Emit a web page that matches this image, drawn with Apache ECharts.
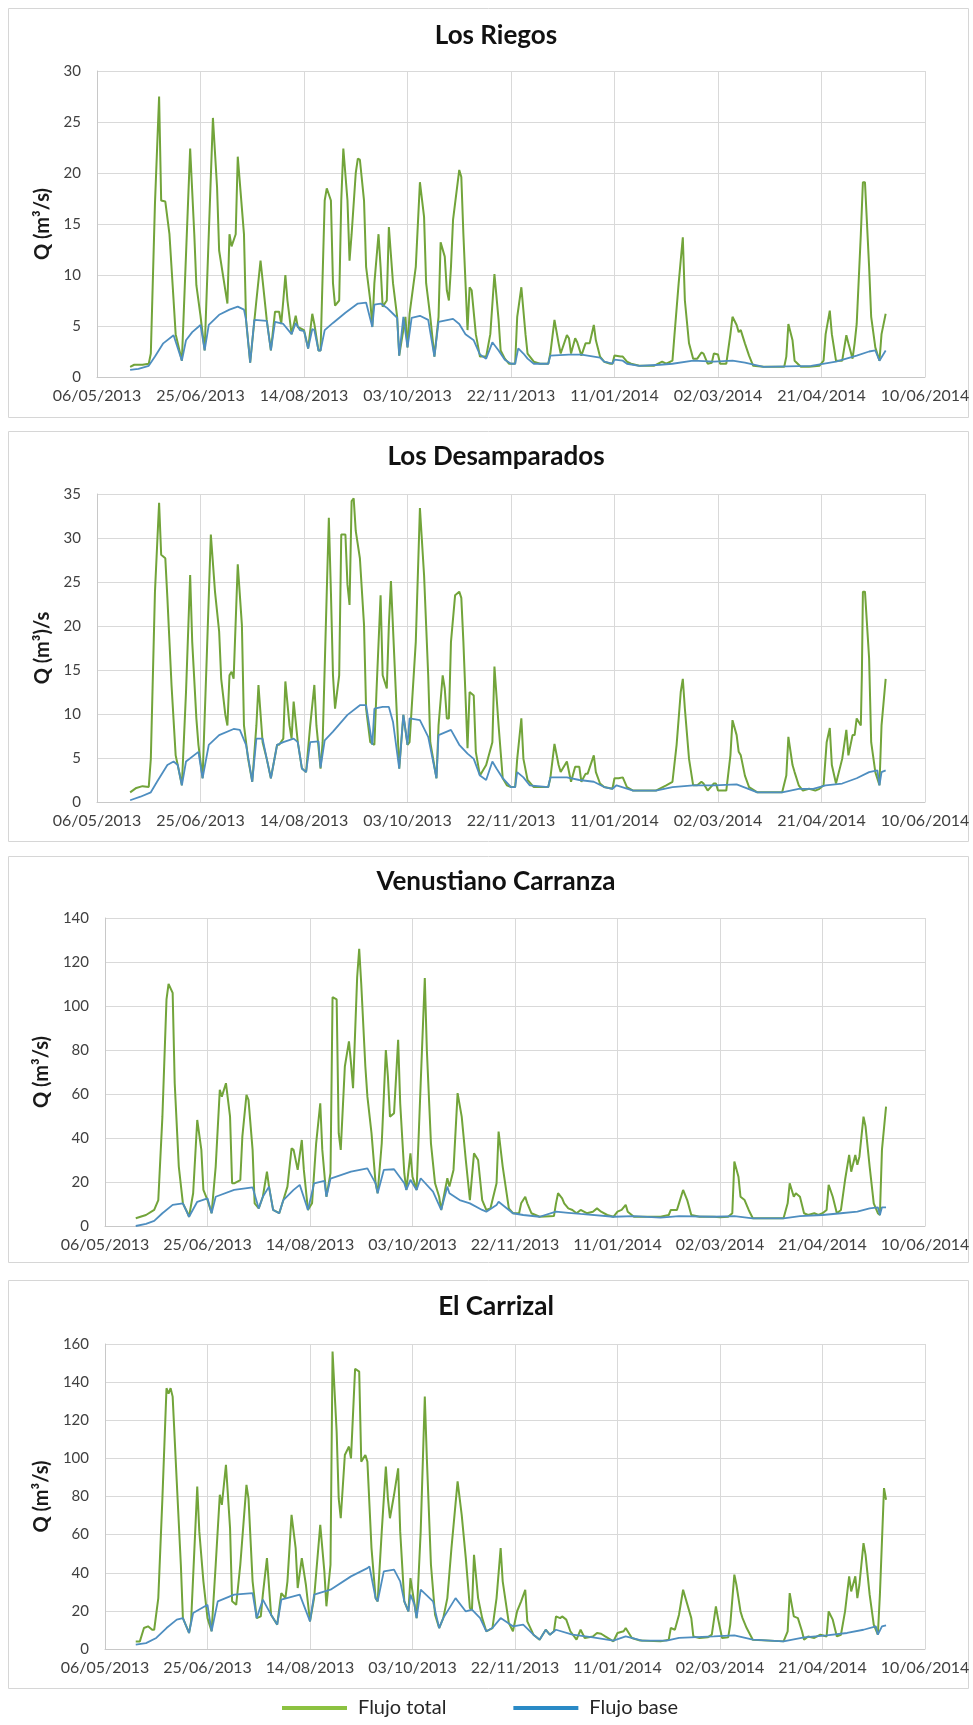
<!DOCTYPE html>
<html>
<head>
<meta charset="utf-8">
<title>Flujo total y flujo base</title>
<script src="https://cdn.jsdelivr.net/npm/echarts@6/dist/echarts.min.js"></script>
<style>
  html, body { margin: 0; padding: 0; background: #ffffff; }
  #chart { width: 973px; height: 1725px; }
</style>
</head>
<body>
<div id="chart"></div>
<script>
// x values are days counted from 06/05/2013; y values are discharge in m3/s
const xTickLabels = ['06/05/2013', '25/06/2013', '14/08/2013', '03/10/2013', '22/11/2013',
                     '11/01/2014', '02/03/2014', '21/04/2014', '10/06/2014'];
const xTickStep = 50;

const stations = ['Los Riegos', 'Los Desamparados', 'Venustiano Carranza', 'El Carrizal'];
const yAxisNames = ['Q (m³/s)', 'Q (m³)/s', 'Q (m³/s)', 'Q (m³/s)'];
const yMax = [30, 35, 140, 160];
const yStep = [5, 5, 20, 20];

const riegosTotal = [[16,1.0],[18,1.2],[22,1.2],[25,1.3],[26,2.3],[28,17.0],[30,27.5],[31,17.3],[33,17.2],[35,14.0],[37,7.5],[38,4.2],[41,1.6],[45,22.4],[47,14.0],[48,9.0],[50,6.0],[52,2.6],[54,14.0],[56,25.4],[58,18.6],[59,12.4],[61,9.8],[63,7.2],[64,14.0],[65,12.8],[67,14.0],[68,21.6],[71,14.0],[72,5.6],[74,1.4],[77,7.5],[79,11.4],[80,9.5],[82,5.6],[84,2.6],[86,6.4],[88,6.4],[89,5.2],[90,7.5],[91,10.0],[92,7.5],[94,4.2],[96,6.0],[97,4.9],[100,4.6],[102,2.8],[104,6.2],[105,5.2],[107,2.6],[108,2.6],[110,17.3],[111,18.5],[113,17.3],[114,9.2],[115,7.0],[117,7.5],[118,17.3],[119,22.4],[121,17.3],[122,11.4],[123,14.0],[125,20.0],[126,21.4],[127,21.3],[129,17.3],[130,10.8],[132,7.5],[133,4.9],[134,9.2],[136,14.0],[137,10.8],[138,6.9],[140,7.5],[141,14.7],[143,9.2],[145,5.9],[146,2.1],[149,5.9],[150,2.9],[151,6.2],[154,10.8],[156,19.1],[158,15.7],[159,9.2],[161,5.9],[163,2.0],[165,5.9],[166,13.2],[168,11.8],[169,8.5],[170,7.5],[171,10.8],[172,15.4],[175,20.3],[176,19.6],[177,14.0],[179,4.6],[180,8.8],[181,8.5],[183,4.2],[185,2.0],[188,2.0],[190,4.2],[192,10.1],[194,5.6],[195,2.6],[197,1.8],[199,1.3],[202,1.3],[203,5.9],[205,8.8],[207,4.2],[208,2.3],[211,1.5],[214,1.3],[218,1.3],[219,2.3],[221,5.6],[223,3.3],[224,2.3],[227,4.1],[228,3.8],[229,2.3],[231,3.8],[232,3.4],[234,2.1],[236,3.3],[238,3.3],[240,5.1],[241,3.6],[243,2.0],[245,1.5],[248,1.3],[249,1.3],[250,2.1],[253,2.0],[254,2.0],[256,1.5],[258,1.3],[262,1.1],[269,1.1],[273,1.5],[275,1.3],[278,1.6],[279,4.2],[281,9.2],[283,13.7],[284,7.5],[286,3.3],[288,1.8],[290,1.8],[292,2.4],[293,2.3],[295,1.3],[297,1.4],[298,2.3],[300,2.2],[301,1.3],[304,1.3],[306,4.2],[307,5.9],[309,5.1],[310,4.4],[311,4.6],[313,3.3],[315,2.1],[317,1.1],[322,1.0],[332,1.0],[333,2.0],[334,5.2],[336,3.6],[337,1.6],[340,1.0],[344,1.0],[349,1.1],[351,1.6],[352,4.2],[354,6.5],[355,4.2],[357,1.6],[360,1.6],[362,4.1],[363,3.3],[365,1.8],[366,3.3],[367,5.2],[369,14.0],[370,19.1],[371,19.1],[373,10.8],[374,5.9],[376,2.9],[378,1.6],[379,4.2],[381,6.2]];
const riegosBase = [[16,0.7],[20,0.8],[25,1.1],[28,2.0],[32,3.3],[37,4.1],[41,1.6],[43,3.6],[46,4.4],[50,5.1],[52,2.6],[54,5.1],[59,6.1],[64,6.6],[68,6.9],[71,6.6],[72,5.6],[74,1.4],[76,5.6],[82,5.5],[84,2.6],[86,5.4],[90,5.2],[94,4.2],[96,5.3],[98,4.6],[100,4.5],[102,2.8],[104,4.7],[105,4.6],[107,2.6],[108,2.6],[110,4.6],[114,5.3],[120,6.3],[126,7.2],[130,7.3],[133,4.9],[134,7.1],[137,7.2],[140,6.8],[143,6.2],[145,5.8],[146,2.1],[148,5.9],[150,2.9],[152,5.8],[156,6.0],[160,5.6],[163,2.0],[165,5.4],[172,5.7],[175,5.2],[178,4.2],[182,3.6],[185,2.2],[188,1.8],[191,3.4],[194,2.6],[197,1.7],[200,1.3],[202,1.3],[203.5,2.8],[206,2.3],[208,1.8],[211,1.3],[218,1.3],[219,2.1],[228,2.2],[234,2.2],[240,2.0],[243,1.9],[245,1.5],[249,1.3],[250,1.7],[254,1.6],[256,1.3],[262,1.1],[272,1.2],[278,1.3],[288,1.6],[298,1.5],[307,1.6],[313,1.4],[322,1.0],[345,1.1],[357,1.5],[367,2.1],[373,2.5],[376,2.6],[378,1.6],[381,2.6]];

const desampTotal = [[16,1.1],[19,1.6],[22,1.8],[25,1.7],[26,4.9],[28,23.9],[30,34.0],[31,28.1],[33,27.7],[34,23.2],[36,13.3],[38,5.3],[39,4.2],[41,1.9],[43,12.5],[45,25.8],[46,18.2],[48,9.5],[49,6.5],[51,2.7],[53,16.3],[55,30.4],[57,23.9],[59,19.4],[60,14.0],[62,9.9],[63,8.7],[64,14.4],[65,14.8],[66,14.0],[68,27.0],[70,20.1],[71,8.7],[73,4.9],[75,2.3],[77,8.7],[78,13.3],[80,6.8],[82,4.9],[84,2.7],[87,6.5],[88,6.5],[90,7.2],[91,13.7],[93,8.7],[94,7.2],[95,11.4],[97,6.8],[99,3.8],[101,3.4],[103,8.7],[105,13.3],[106,8.7],[108,3.8],[109,6.8],[111,23.9],[112,32.3],[113,23.9],[114,14.4],[115,10.6],[117,14.4],[118,30.4],[120,30.4],[121,24.7],[122,22.4],[123,34.2],[124,34.5],[125,30.8],[127,27.7],[129,20.1],[130,10.6],[132,6.8],[134,6.5],[135,12.5],[137,23.5],[138,14.4],[140,12.9],[141,20.1],[142,25.1],[144,14.4],[146,3.8],[148,9.9],[150,6.5],[151,6.8],[154,18.2],[156,33.4],[158,25.8],[160,14.4],[161,6.8],[164,2.7],[165,8.7],[167,14.4],[168,12.9],[169,9.5],[170,9.5],[171,18.2],[173,23.5],[175,23.9],[176,23.2],[177,18.2],[179,6.1],[180,12.5],[182,12.1],[183,5.7],[185,3.0],[188,4.2],[191,6.8],[192,15.4],[194,8.7],[196,2.7],[198,1.9],[200,1.7],[202,1.7],[203,4.9],[205,9.5],[206,4.9],[208,2.5],[211,1.7],[218,1.7],[219,2.7],[221,6.6],[223,4.2],[224,3.4],[227,4.6],[229,2.3],[231,4.0],[233,4.0],[234,2.3],[236,3.2],[237,3.2],[240,5.3],[241,3.4],[243,2.1],[245,1.7],[249,1.5],[250,2.7],[252,2.7],[254,2.8],[256,1.7],[259,1.3],[270,1.3],[275,1.9],[278,2.3],[280,6.5],[282,12.5],[283,14.0],[284,10.6],[286,4.9],[288,1.9],[290,1.9],[292,2.3],[293,2.1],[295,1.3],[298,2.1],[299,2.1],[300,1.3],[304,1.3],[306,5.3],[307,9.3],[309,7.6],[310,5.7],[311,5.3],[313,3.0],[315,1.7],[319,1.1],[331,1.1],[333,3.0],[334,7.4],[336,4.2],[337,3.4],[339,1.9],[341,1.3],[344,1.5],[347,1.3],[349,1.5],[351,1.9],[352.5,6.8],[354,8.4],[355,4.2],[357,2.1],[360,4.9],[362,8.2],[363,5.3],[365,7.6],[366,7.6],[367,9.5],[369,8.7],[369.5,14.4],[370,23.9],[371,23.9],[373,16.3],[374,6.8],[376,3.4],[378,1.9],[379,8.7],[381,14.0]];
const desampBase = [[16,0.2],[21,0.6],[26,1.1],[29,2.3],[34,4.2],[37,4.6],[39,4.2],[41,1.9],[43,4.6],[49,5.7],[51,2.7],[54,6.5],[59,7.6],[66,8.3],[69,8.2],[72,6.5],[75,2.3],[77,7.2],[80,7.2],[82,4.9],[84,2.7],[87,6.5],[90,6.8],[95,7.2],[97,6.8],[99,3.8],[101,3.4],[103,6.8],[107,6.9],[108,3.9],[110,7.0],[114,8.0],[121,9.9],[127,11.0],[130,11.0],[133,6.5],[134,10.6],[138,10.8],[141,10.8],[143,9.1],[146,3.8],[148,9.9],[150,6.5],[151,9.5],[156,9.3],[160,7.4],[164,2.7],[165,7.6],[171,8.2],[175,6.5],[179,5.5],[182,4.9],[185,3.0],[188,2.5],[191,4.6],[193,3.8],[196,2.7],[200,1.7],[202,1.7],[203,3.4],[206,2.8],[209,1.9],[218,1.7],[219,2.8],[227,2.8],[233,2.5],[240,2.3],[245,1.7],[249,1.5],[251,1.9],[259,1.3],[270,1.3],[278,1.7],[288,1.9],[298,1.9],[309,2.0],[319,1.1],[331,1.1],[339,1.5],[346,1.5],[352,1.9],[360,2.1],[367,2.7],[373,3.4],[377,3.6],[378,1.9],[379,3.4],[381,3.6]];

const carranzaTotal = [[15,3.5],[20,5.0],[24,7.3],[26,11.8],[28,49.7],[30,103],[31,110],[33,106],[34,65],[36,27],[38,10.3],[40,6.5],[41,4.2],[43,14.9],[45,48.2],[47,34.6],[48,16.4],[50,11.8],[52,5.8],[54,27],[56,61.9],[57,58.8],[59,64.9],[61,49.7],[62,19.4],[63,19.4],[66,20.9],[67,40.6],[69,59.6],[70,57.3],[72,34.6],[73,10.3],[75,8.0],[77,13.3],[79,24.7],[80,17.9],[82,7.3],[85,5.8],[87,11.8],[89,17.9],[91,35.3],[92,34.6],[94,25.5],[96,39.1],[97,25.5],[99,7.3],[101,10.3],[103,37.6],[105,55.8],[106,34.6],[108,13.3],[110,24],[111,104],[113,103],[114,42.2],[115,34.6],[117,72.5],[119,83.9],[120,74],[121,62.6],[123,113],[124,126],[125,110],[127,72.5],[128,58.8],[130,42.2],[132,19.4],[133,14.9],[135,37.6],[137,80],[138,68],[139,49.7],[141,51.3],[143,84.6],[144,55.8],[146,24],[147,16.4],[149,33],[150,22.4],[152,16.4],[154,65],[156,112.7],[157,80],[159,37.6],[161,19.4],[163,13.3],[164,7.3],[167,21.7],[168,17.9],[170,25.5],[172,60.4],[174,49.7],[176,30],[178,11.8],[180,33],[182,30],[184,11.8],[186,7.3],[188,8],[191,19.4],[192,42.9],[194,27],[197,8],[199,5.8],[202,5.8],[203,10.3],[205,13.3],[206,10.3],[208,5.8],[212,4.2],[219,4.5],[220,10.3],[221,14.9],[223,12.6],[224,10.3],[226,8],[228,7.3],[230,5.8],[232,7.3],[235,5.8],[238,6.5],[240,8],[242,6.5],[245,5],[248,4.2],[250,6.5],[252,7.3],[254,9.6],[255,6.5],[258,4.2],[271,4.2],[275,5],[276,7.3],[279,7.3],[280,10.3],[282,16.4],[284,11.8],[286,5],[290,4.2],[297,4.2],[300,4],[304,4.2],[306,5.8],[307,29.3],[309,22.4],[310,13.3],[312,11.8],[314,7.3],[316,3.5],[331,3.5],[333,10.3],[334,19.4],[336,13.3],[337,14.9],[339,13.3],[341,5.8],[343,5],[346,5.8],[348,5],[350,5.8],[352,7.3],[353,18.7],[355,13.3],[357,5.8],[359,7.3],[361,20.9],[363,32.3],[364,24.7],[366,32.3],[367,27.8],[368,31.5],[370,49.7],[371,45.2],[373,27],[375,10.3],[377,5.8],[378,5],[379,34.6],[381,54.3]];
const carranzaBase = [[15,0],[20,1],[24,2.3],[28,5.8],[33,9.6],[38,10.3],[41,4.2],[45,11],[50,12.6],[52,5.8],[54,13.3],[63,16.4],[72,17.6],[75,8],[77,13.3],[80,17.9],[82,7.3],[85,5.8],[87,11.8],[92,16.4],[95,18.7],[99,7.3],[102,19.4],[107,20.5],[108,13.3],[110,21.5],[120,24.7],[128,26.2],[132,19.4],[133,14.9],[136,25.5],[141,25.8],[146,19.4],[147,16.4],[149,21],[150,19.4],[152,16.4],[154,21.7],[160,15.6],[164,7.3],[167,17.9],[168,14.9],[173,11.8],[178,10.3],[184,7.3],[186,6.5],[191,9.6],[192,11],[197,7.3],[199,5.8],[204,5],[212,4.2],[220,6.5],[226,6],[232,5.5],[248,4.2],[258,4.5],[271,3.8],[280,4.5],[297,4.2],[307,4.5],[316,3.5],[331,3.5],[339,4.5],[350,5],[359,5.8],[367,6.5],[373,8],[377,8.5],[378,5],[379,8.5],[381,8.5]];

const carrizalTotal = [[15,4],[17,4],[19,11],[21,11.9],[23,10.1],[24,10.1],[26,26.7],[28,79],[30,136.8],[31,134],[32,136.8],[33,132.4],[35,87.9],[37,44.2],[38,16.2],[41,8.4],[42,14.5],[45,85.2],[46,61.7],[48,35.5],[50,16.2],[52,9.3],[54,44.2],[56,80.9],[57,75.6],[59,96.6],[61,63.4],[62,25],[64,23.2],[66,44.2],[69,86.1],[70,79],[72,35.5],[74,16.2],[76,17.1],[77,28.5],[79,47.7],[81,18],[84,12.8],[86,29.3],[88,26.7],[89,35.5],[91,70.4],[93,52.9],[94,32],[96,47.7],[98,33.7],[100,14.5],[102,26.7],[105,65.2],[107,40.7],[108,22.4],[110,44.2],[111,156],[113,114],[114,79],[115,68.6],[117,101.8],[119,106.2],[120,100],[122,147],[124,145.5],[125,98.3],[127,101.8],[128,98.3],[130,52.9],[132,26.7],[133,25],[135,61.7],[137,95.7],[138,79],[139,68.6],[141,80.9],[143,94.8],[144,61.7],[146,25],[148,19.7],[149,37.2],[151,23.2],[152,16.2],[154,61.7],[156,132.4],[157,100],[159,44.2],[161,18],[163,11],[165,16.2],[167,26.7],[169,52.9],[172,87.9],[174,70.4],[176,47.7],[178,21.5],[179,20.6],[180,49.4],[182,26.7],[184,16.2],[186,9.3],[189,11],[191,26.7],[193,52.9],[194,35.5],[197,13.6],[199,9.3],[201,19.7],[203,25],[205,31.1],[206,14.5],[209,7.5],[212,4.9],[215,10.1],[217,7.5],[219,9.3],[220,17.1],[222,16.2],[223,17.1],[225,15.4],[227,9.3],[230,4.9],[232,10.1],[234,5.8],[238,6.6],[240,8.4],[242,8],[244,6.6],[248,4],[250,8.4],[253,9.3],[254,11],[257,5.8],[261,4.4],[271,4],[275,4.9],[276,11],[278,10.1],[280,18],[282,31.1],[286,16.2],[287,6.6],[290,5.8],[294,6.1],[296,7.5],[298,22.4],[299,16.2],[301,5.8],[304,6.1],[305,12.8],[307,39],[308,33.7],[310,19.7],[311,16.2],[313,11],[316,4.9],[331,4],[333,9.3],[334,29.3],[336,17.1],[338,16.2],[340,9.3],[341,4.9],[343,6.6],[346,5.8],[349,7.5],[352,6.6],[353,19.7],[355,15.4],[357,6.6],[359,7.5],[361,19.7],[363,38.1],[364,30.2],[366,38.1],[367,26.7],[368,33.7],[370,55.5],[371,49.4],[373,28.5],[375,12.8],[377,7.5],[378,28.5],[380,84.4],[381,78.3]];
const carrizalBase = [[15,2.3],[20,3.1],[25,5.8],[30,11],[35,15.4],[38,16.2],[41,8.4],[43,18.9],[50,23.2],[52,9.3],[55,25],[63,28.5],[72,29.3],[74,16.2],[77,25.9],[81,18],[84,12.8],[86,25.9],[95,28.5],[100,14.5],[102,28.5],[110,31.1],[120,38.1],[128,42.4],[129,43.3],[132,26.7],[133,25],[136,40.7],[141,41.6],[144,35.5],[146,25],[148,19.7],[149,28.5],[151,23.2],[152,16.2],[154,31.1],[160,25],[163,11],[165,16.2],[171,26.7],[176,19.7],[179,20.6],[183,16.2],[186,9.3],[189,11],[193,16.2],[199,11.9],[204,12.8],[209,7.5],[212,4.9],[215,10.1],[217,7.5],[220,10.1],[228,7.5],[238,6.1],[248,4.4],[254,6.6],[262,4.4],[274,4.4],[280,5.8],[297,6.6],[307,7.2],[316,4.9],[331,4],[341,6.1],[352,7.2],[362,8.4],[370,10.1],[376,11.9],[377,7.5],[379,11.9],[381,12.4]];

const totals = [riegosTotal, desampTotal, carranzaTotal, carrizalTotal];
const bases = [riegosBase, desampBase, carranzaBase, carrizalBase];

// ---- layout of the four stacked panels ----
const FONT = 'Lato, "Open Sans", sans-serif';
const GREEN = '#72a43a';
const BLUE = '#4e8ec0';
const GRID_COLOR = '#d9d9d9';

const panelGrids = [
  { left: 97,  top: 71,   width: 828, height: 306 },
  { left: 97,  top: 494,  width: 828, height: 308 },
  { left: 105, top: 918,  width: 820, height: 308 },
  { left: 105, top: 1344, width: 820, height: 305 }
];
const titleCenterY = [36, 457, 882, 1307];
const panelBoxes = [
  { y: 8,    h: 409 },
  { y: 431,  h: 410 },
  { y: 856,  h: 406 },
  { y: 1280, h: 408 }
];

const option = {
  animation: false,
  backgroundColor: '#ffffff',
  textStyle: { fontFamily: FONT },
  graphic: panelBoxes.map(b => ({
    type: 'rect',
    silent: true,
    z: -10,
    shape: { x: 8.5, y: b.y + 0.5, width: 960, height: b.h },
    style: { fill: '#ffffff', stroke: '#d6d6d6', lineWidth: 1 }
  })),
  title: stations.map((s, i) => ({
    text: s,
    left: 496,
    top: titleCenterY[i] - 15,
    textAlign: 'center',
    padding: 0,
    textStyle: { fontFamily: FONT, fontSize: 26, fontWeight: 'bold', color: '#111111', lineHeight: 30 }
  })),
  legend: {
    left: 277,
    top: 1693,
    icon: 'rect',
    itemWidth: 65,
    itemHeight: 4,
    itemGap: 67,
    textStyle: { fontFamily: FONT, fontSize: 20, color: '#262626', padding: [0, 0, 0, 6] },
    data: [
      { name: 'Flujo total', itemStyle: { color: '#8cc241' } },
      { name: 'Flujo base', itemStyle: { color: '#2a8ac6' } }
    ]
  },
  grid: panelGrids.map(g => Object.assign({ containLabel: false }, g)),
  xAxis: panelGrids.map((g, i) => ({
    type: 'value',
    gridIndex: i,
    min: 0,
    max: xTickStep * (xTickLabels.length - 1),
    interval: xTickStep,
    axisLine: { show: true, lineStyle: { color: '#c8c8c8', width: 1 } },
    axisTick: { show: false },
    splitLine: { show: true, lineStyle: { color: GRID_COLOR, width: 1 } },
    axisLabel: {
      margin: 11,
      fontFamily: FONT,
      fontSize: 16,
      color: '#404040',
      showMinLabel: true,
      showMaxLabel: true,
      formatter: v => xTickLabels[Math.round(v / xTickStep)]
    }
  })),
  yAxis: panelGrids.map((g, i) => ({
    type: 'value',
    gridIndex: i,
    min: 0,
    max: yMax[i],
    interval: yStep[i],
    name: yAxisNames[i],
    nameLocation: 'middle',
    nameGap: g.left - 57,
    nameTextStyle: { fontFamily: FONT, fontSize: 20, fontWeight: 'bold', color: '#1a1a1a' },
    axisLine: { show: true, lineStyle: { color: '#c8c8c8', width: 1 } },
    axisTick: { show: false },
    splitLine: { show: true, lineStyle: { color: GRID_COLOR, width: 1 } },
    axisLabel: { margin: 16, fontFamily: FONT, fontSize: 15, color: '#404040' }
  })),
  series: []
};

totals.forEach((data, i) => {
  option.series.push({
    type: 'line',
    name: 'Flujo total',
    xAxisIndex: i,
    yAxisIndex: i,
    data: data,
    showSymbol: false,
    symbol: 'none',
    silent: true,
    z: 2,
    lineStyle: { color: GREEN, width: 2 },
    itemStyle: { color: GREEN }
  });
});
bases.forEach((data, i) => {
  option.series.push({
    type: 'line',
    name: 'Flujo base',
    xAxisIndex: i,
    yAxisIndex: i,
    data: data,
    showSymbol: false,
    symbol: 'none',
    silent: true,
    z: 3,
    lineStyle: { color: BLUE, width: 1.8 },
    itemStyle: { color: BLUE }
  });
});

const chart = echarts.init(document.getElementById('chart'), null, { renderer: 'canvas' });
chart.setOption(option);
</script>
</body>
</html>
